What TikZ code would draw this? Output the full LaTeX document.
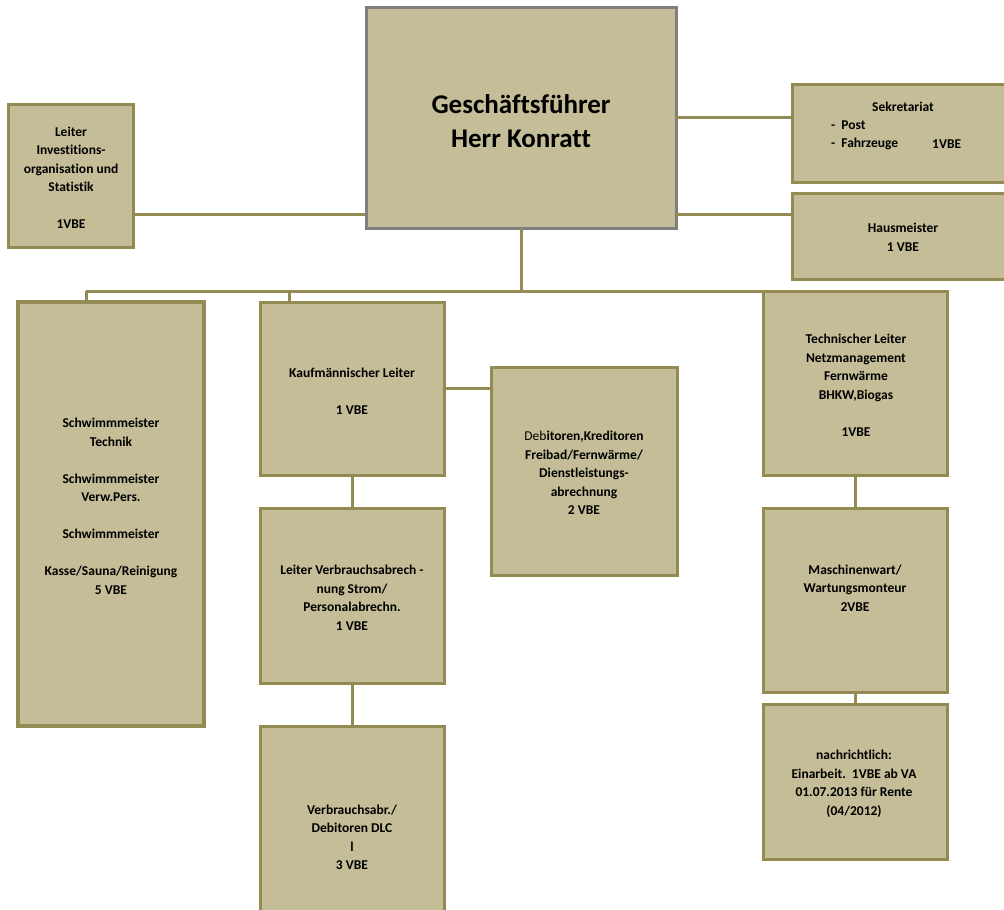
\documentclass[tikz,border=0pt]{standalone}
\usepackage{fontspec}
\setmainfont[Ligatures=NoCommon]{Carlito}
\definecolor{boxfill}{HTML}{C4BD97}
\definecolor{boxline}{HTML}{948A54}
\definecolor{gfline}{HTML}{7F7F7F}
\begin{document}
\begin{tikzpicture}[x=1pt,y=-1pt,
  box/.style={draw=boxline, fill=boxfill, line width=3pt, inner sep=0pt, outer sep=0pt, rectangle},
  conn/.style={draw=boxline, line width=3pt},
  txt/.style={font=\bfseries\fontsize{13.5}{18.5}\selectfont, align=center, inner sep=0pt},
  bigtxt/.style={font=\bfseries\fontsize{27}{34}\selectfont, align=center, inner sep=0pt}]
\useasboundingbox (0,0) rectangle (1004,910);
\clip (0,0) rectangle (1004,910);

% boxes
\node[box, draw=gfline, minimum width=310, minimum height=221] (gf) at (521,117.5) {};
\node[box, minimum width=125, minimum height=143] (inv) at (70.5,175.5) {};
\node[box, minimum width=218, minimum height=98] (sek) at (901,133) {};
\node[box, minimum width=218, minimum height=86] (haus) at (901,236) {};
\node[box, line width=4pt, minimum width=186, minimum height=424] (schw) at (111,514) {};
\node[box, minimum width=184, minimum height=173] (kauf) at (352,388.5) {};
\node[box, minimum width=186, minimum height=208] (deb) at (584,471) {};
\node[box, minimum width=184, minimum height=175] (lvb) at (352,595.5) {};
\node[box, minimum width=184, minimum height=222] (vab) at (352,837) {};
\node[box, minimum width=184, minimum height=184] (tech) at (855,383) {};
\node[box, minimum width=184, minimum height=184] (masch) at (855,600) {};
\node[box, minimum width=184, minimum height=155] (nach) at (855,781.5) {};

% bus coordinates
\coordinate (busL) at (86,291);
\coordinate (busK) at (289,291);
\coordinate (busR) at (776,291);

% connectors
\draw[conn] ([yshift=-38.5pt]inv.east) -- ([yshift=-38.5pt]inv.east -| gf.west);
\draw[conn] (gf.east) -- (gf.east -| sek.west);
\draw[conn] ([yshift=22pt]haus.west) -- ([yshift=22pt]haus.west -| gf.east);
\draw[conn] (gf.south) -- (gf.south |- busL);
\draw[conn] (busL) -- (busR);
\draw[conn] (busL) -- (busL |- schw.north);
\draw[conn] (busK) -- (busK |- kauf.north);
\draw[conn] (kauf.east) -- (kauf.east -| deb.west);
\draw[conn] (kauf.south) -- (lvb.north);
\draw[conn] (lvb.south) -- (vab.north);
\draw[conn] (tech.south) -- (masch.north);
\draw[conn] (masch.south) -- (nach.north);

% texts
\node[bigtxt] (gf-t) at (521,121) {Geschäftsführer\\Herr Konratt};
\node[txt] (inv-t) at (71,178) {Leiter\\Investitions-\\organisation und\\Statistik\\[18.5pt]1VBE};
\node[txt] (sek-t1) at (903,107) {Sekretariat};
\node[txt, anchor=west] (sek-t2) at (831,125) {-\ \ Post};
\node[txt, anchor=west] (sek-t3) at (831,144) {-\ \ Fahrzeuge};
\node[txt, anchor=west] (sek-t4) at (932,144) {1VBE};
\node[txt] (haus-t) at (903,237.5) {Hausmeister\\1 VBE};
\node[txt] (schw-t) at (111,506.5) {Schwimmmeister\\Technik\\[18.5pt]Schwimmmeister\\Verw.Pers.\\[18.5pt]Schwimmmeister\\[18.5pt]Kasse/Sauna/Reinigung\\5 VBE};
\node[txt] (kauf-t) at (352,391) {Kaufmännischer Leiter\\[18.5pt]1 VBE};
\node[txt] (deb-t) at (584,473) {{\mdseries Deb}itoren,Kreditoren\\Freibad/Fernwärme/\\Dienstleistungs-\\abrechnung\\2 VBE};
\node[txt] (lvb-t) at (352,598) {Leiter Verbrauchsabrech -\\nung Strom/\\Personalabrechn.\\1 VBE};
\node[txt] (vab-t) at (352,837.5) {Verbrauchsabr./\\Debitoren DLC\\l\\3 VBE};
\node[txt] (tech-t) at (856,385.5) {Technischer Leiter\\Netzmanagement\\Fernwärme\\BHKW,Biogas\\[18.5pt]1VBE};
\node[txt] (masch-t) at (855,588) {Maschinenwart/\\Wartungsmonteur\\2VBE};
\node[txt] (nach-t) at (854,784) {nachrichtlich:\\Einarbeit.\ \ 1VBE ab VA\\01.07.2013 für Rente\\(04/2012)};
\end{tikzpicture}
\end{document}
